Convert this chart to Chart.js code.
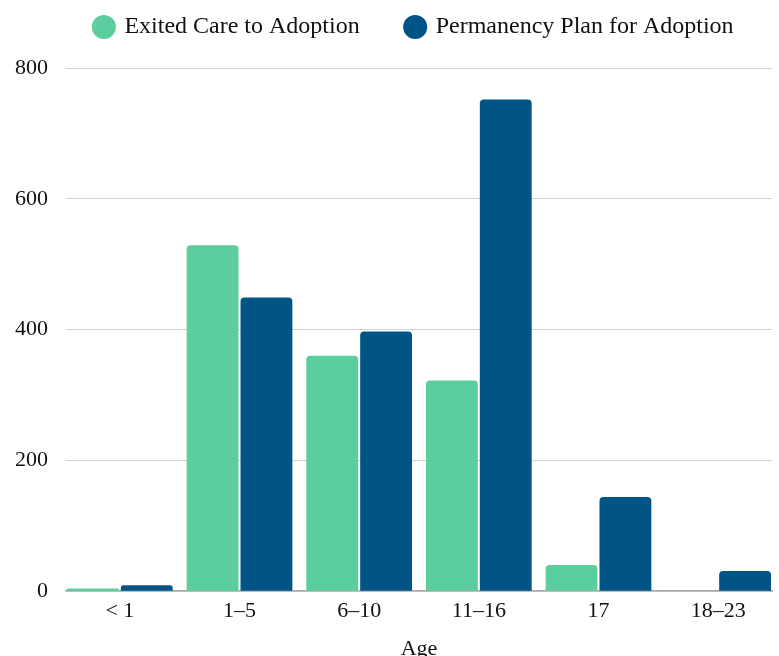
<!DOCTYPE html>
<html>
<head>
<meta charset="utf-8">
<script src="https://cdn.jsdelivr.net/npm/chart.js@4"></script>
<style>
  html, body { margin: 0; padding: 0; background: #fff; overflow: hidden; }
  #wrap { width: 779px; height: 656px; }
</style>
</head>
<body>
<div id="wrap"><canvas id="chart"></canvas></div>
<script>
// data
const ageGroups = ['< 1', '1–5', '6–10', '11–16', '17', '18–23'];
const exitedCare = [4, 529, 360, 322, 40, 0];
const permanencyPlan = [9, 449, 397, 752, 144, 31];
const yTicks = [0, 200, 400, 600, 800];

const serif = "'Liberation Serif', 'DejaVu Serif', serif";

// legend: fixed height + small shift to the right, like the original
const legendTweak = {
    id: 'legendTweak',
    beforeInit(chart) {
        const legend = chart.legend;
        const origFit = legend.fit;
        legend.fit = function() {
            origFit.bind(legend)();
            this.height = 100;
        };
        const origDraw = legend.draw;
        legend.draw = function() {
            const ctx = chart.ctx;
            ctx.save();
            ctx.translate(30, 0);
            origDraw.apply(legend, arguments);
            ctx.restore();
        };
    },
    // bars reach the edges of the plot, so stretch the category window a bit
    afterLayout(chart) {
        const x = chart.scales.x;
        x._startValue = -0.45;
        x._valueRange = 5.9;
    }
};

new Chart(document.getElementById('chart'), {
    type: 'bar',
    data: {
        labels: ageGroups,
        datasets: [
            {
                label: 'Exited Care to Adoption',
                data: exitedCare,
                backgroundColor: '#5ccd9c',
                borderRadius: { topLeft: 4, topRight: 4 },
                borderSkipped: 'bottom'
            },
            {
                label: 'Permanency Plan for Adoption',
                data: permanencyPlan,
                backgroundColor: '#015486',
                borderRadius: { topLeft: 4, topRight: 4 },
                borderSkipped: 'bottom'
            }
        ]
    },
    plugins: [legendTweak],
    options: {
        responsive: true,
        maintainAspectRatio: false,
        animation: false,
        layout: { padding: { left: -3, right: 7, top: -32, bottom: -6 } },
        datasets: {
            bar: { categoryPercentage: 0.9, barPercentage: 0.963 }
        },
        plugins: {
            legend: {
                position: 'top',
                labels: {
                    usePointStyle: true,
                    pointStyle: 'circle',
                    boxWidth: 17,
                    boxHeight: 17,
                    padding: 47,
                    color: '#111',
                    font: { family: serif, size: 24 }
                }
            },
            tooltip: { enabled: false }
        },
        scales: {
            x: {
                grid: { display: false, drawTicks: false },
                border: { display: true, color: '#aaa', width: 1.5 },
                ticks: {
                    color: '#111',
                    padding: 7,
                    font: { family: serif, size: 22 }
                },
                title: {
                    display: true,
                    text: 'Age',
                    color: '#111',
                    padding: { top: 4, bottom: 0 },
                    font: { family: serif, size: 22 }
                }
            },
            y: {
                min: 0,
                max: 800,
                afterBuildTicks: axis => {
                    axis.ticks = yTicks.map(v => ({ value: v }));
                },
                grid: { color: '#d0d0d0', drawTicks: false },
                border: { display: false },
                ticks: {
                    color: '#111',
                    padding: 18,
                    font: { family: serif, size: 22 }
                }
            }
        }
    }
});
</script>
</body>
</html>
